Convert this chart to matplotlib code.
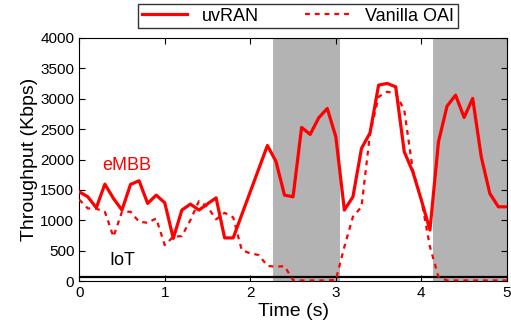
import matplotlib
matplotlib.use("Agg")
import matplotlib.pyplot as plt
import numpy as np

plt.rcParams["font.family"] = ["Liberation Sans", "DejaVu Sans"]

# time axis (s), one sample every 0.1 s
tempo = np.round(np.arange(0, 5.01, 0.1), 1)

uvran = [1469, 1387, 1206, 1595, 1360, 1168, 1590, 1650, 1278, 1414,
         1288, 702, 1168, 1266, 1168, 1270, 1370, 710, 710, 1090,
         1470, 1850, 2230, 1970, 1414, 1387, 2528, 2413, 2686, 2840,
         2373, 1168, 1387, 2182, 2439, 3224, 3252, 3196, 2127, 1798,
         1332, 839, 2291, 2878, 3059, 2692, 3005, 2044, 1442, 1222,
         1222]

vanilla = [1340, 1196, 1190, 1140, 729, 1140, 1140, 975, 959, 1030,
           592, 729, 740, 1003, 1316, 1222, 1015, 1123, 1048, 510,
           455, 428, 250, 235, 246, 15, 10, 10, 10, 10,
           20, 565, 1058, 1222, 2429, 3032, 3114, 3087, 2812, 1826,
           1332, 565, 70, 10, 10, 10, 10, 10, 10, 10,
           10]

iot = [70] * len(tempo)

# periods shaded in gray
faixas = [(2.27, 3.05), (4.14, 5.0)]

fig = plt.figure(figsize=(5.11, 3.33), dpi=100)
ax = fig.add_axes([0.155, 0.156, 0.837, 0.730])

for ini, fim in faixas:
    ax.axvspan(ini, fim, color="#b3b3b3", lw=0, zorder=0)

ax.plot(tempo, iot, color="black", lw=1.6, zorder=2)
ax.plot(tempo, vanilla, color="red", lw=1.6, ls=(0, (2.2, 2.2)), label="Vanilla OAI", zorder=3)
ax.plot(tempo, uvran, color="red", lw=2.3, label="uvRAN", zorder=4)

ax.text(0.56, 1900, "eMBB", color="red", fontsize=13, ha="center", va="center")
ax.text(0.5, 330, "IoT", color="black", fontsize=13, ha="center", va="center")

ax.set_xlim(0, 5)
ax.set_ylim(0, 4000)
ax.set_xticks([0, 1, 2, 3, 4, 5])
ax.set_yticks(range(0, 4001, 500))
ax.tick_params(direction="in", top=True, right=True, labelsize=11, length=4)
ax.set_xlabel("Time (s)", fontsize=14, labelpad=2)
ax.set_ylabel("Throughput (Kbps)", fontsize=14, labelpad=2)

h, l = ax.get_legend_handles_labels()
leg = fig.legend(h[::-1], l[::-1], ncol=2, loc="upper center", bbox_to_anchor=(0.583, 0.988),
                 fontsize=13, frameon=True, fancybox=False, edgecolor="black", borderaxespad=0,
                 handlelength=2.5, columnspacing=2.6, borderpad=0.2, handletextpad=0.8)
leg.get_frame().set_linewidth(1.0)

fig.savefig("out.png", dpi=100)
